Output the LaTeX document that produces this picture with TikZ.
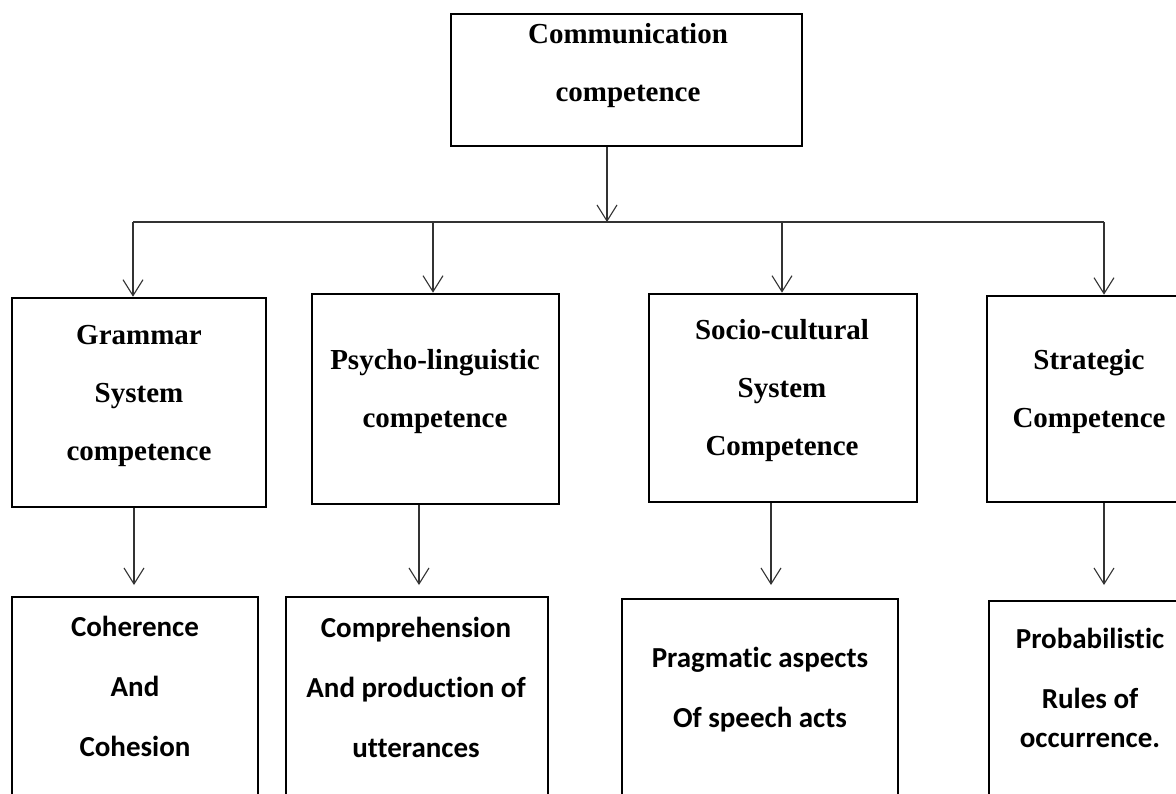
\documentclass[tikz,border=0pt]{standalone}
\usepackage{fontspec}
\setmainfont{Liberation Serif}
\newfontfamily\carlfont[Ligatures=NoCommon]{Carlito}
\usetikzlibrary{arrows.meta}
\begin{document}
\begin{tikzpicture}[x=1pt,y=-1pt,
  box/.style={draw=black,line width=2.6pt,inner sep=0pt,rectangle},
  conn/.style={line width=1.1pt,draw=black!80},
  arr/.style={conn,-{Straight Barb[length=16pt,width=20pt,line width=1.1pt]}},
  ttext/.style={font=\bfseries\fontsize{29}{58}\selectfont,align=center,anchor=base,inner sep=0pt},
  ctext/.style={font=\carlfont\bfseries\fontsize{29}{60}\selectfont,align=center,anchor=base,inner sep=0pt}]
\useasboundingbox (0,0) rectangle (1176,793);
\fill[white] (0,0) rectangle (1176,793);
\clip (0,0) rectangle (1176,793);

% boxes
\node[box,minimum width=351pt,minimum height=132pt] (top) at (626.5,80) {};
\node[box,minimum width=254pt,minimum height=209pt] (g) at (139,402.5) {};
\node[box,minimum width=247pt,minimum height=210pt] (p) at (435.5,399) {};
\node[box,minimum width=268pt,minimum height=208pt] (s) at (783,398) {};
\node[box,minimum width=204pt,minimum height=206pt] (st) at (1089,399) {};
\node[box,minimum width=246pt,minimum height=243pt] (c1) at (135,718.5) {};
\node[box,minimum width=262pt,minimum height=243pt] (c2) at (417,718.5) {};
\node[box,minimum width=276pt,minimum height=241pt] (c3) at (760,719.5) {};
\node[box,minimum width=202pt,minimum height=239pt] (c4) at (1090,720.5) {};

% texts (anchored at the baseline of the last line)
\node[ttext] (toptext) at (628,101) {Communication\\competence};
\node[ttext] (gtext) at (139,460) {Grammar\\System\\competence};
\node[ttext] (ptext) at (435,427) {Psycho-linguistic\\competence};
\node[ttext] (stext) at (782,455) {Socio-cultural\\System\\Competence};
\node[ttext] (sttext) at (1089,427) {Strategic\\Competence};
\node[ctext] (c1text) at (135,756) {Coherence\\And\\Cohesion};
\node[ctext] (c2text) at (416,757) {Comprehension\\And production of\\utterances};
\node[ctext] (c3text) at (760,727) {Pragmatic aspects\\Of speech acts};
\node[ctext] (c4text) at (1090,747) {Probabilistic\\Rules of\\[-21pt]occurrence.};

% connectors
\coordinate (hub) at (607,222);
\coordinate (b1) at (133,222);
\coordinate (b2) at (433,222);
\coordinate (b3) at (782,222);
\coordinate (b4) at (1104,222);
\draw[arr] (top.south -| hub) -- (hub);
\draw[conn] (b1) -- (b4);
\draw[arr] (b1) -- (b1 |- g.north);
\draw[arr] (b2) -- (b2 |- p.north);
\draw[arr] (b3) -- (b3 |- s.north);
\draw[arr] (b4) -- (b4 |- st.north);

\coordinate (e1) at (134,585);
\coordinate (e2) at (419,585);
\coordinate (e3) at (771,585);
\coordinate (e4) at (1104,585);
\draw[arr] (e1 |- g.south) -- (e1);
\draw[arr] (e2 |- p.south) -- (e2);
\draw[arr] (e3 |- s.south) -- (e3);
\draw[arr] (e4 |- st.south) -- (e4);
\end{tikzpicture}
\end{document}
